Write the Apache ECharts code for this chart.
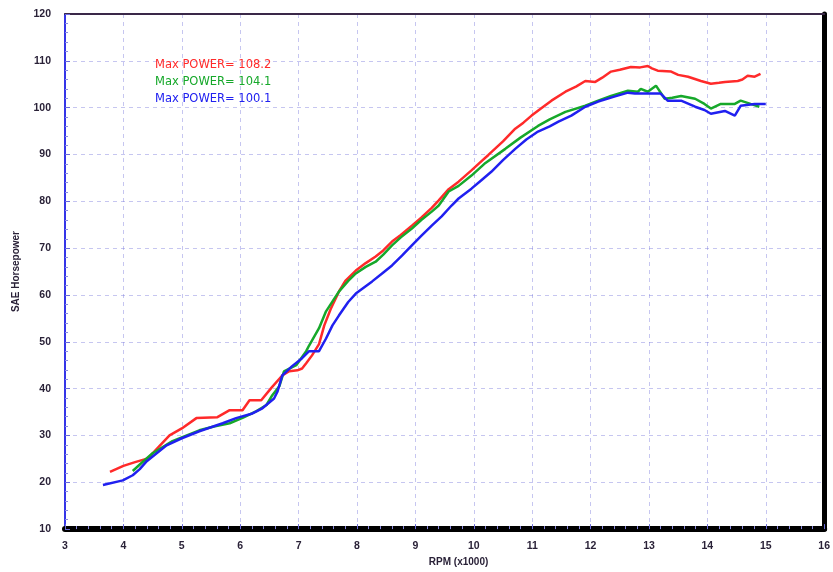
<!DOCTYPE html>
<html>
<head>
<meta charset="utf-8">
<script src="https://cdn.jsdelivr.net/npm/echarts@6/dist/echarts.min.js"></script>
<style>
  html, body { margin: 0; padding: 0; background: #fff; }
  #chart { width: 833px; height: 572px; }
</style>
</head>
<body>
<div id="chart"></div>
<script>
// Dyno runs, RPM in thousands vs SAE horsepower
const seriesNames = ['Max POWER= 108.2', 'Max POWER= 104.1', 'Max POWER= 100.1'];
const seriesColors = ['#ff2a2a', '#16a82a', '#2020f0'];

const redRpm = [3.77, 4.0, 4.2, 4.42, 4.6, 4.79, 5.0, 5.25, 5.61, 5.82, 6.04, 6.16, 6.36, 6.53, 6.72, 6.84, 6.98, 7.06, 7.13, 7.23, 7.35, 7.44, 7.55, 7.69, 7.8, 7.98, 8.15, 8.32, 8.45, 8.6, 8.75, 8.94, 9.1, 9.28, 9.4, 9.57, 9.74, 9.96, 10.1, 10.25, 10.5, 10.71, 10.85, 10.99, 11.15, 11.33, 11.57, 11.75, 11.91, 12.08, 12.2, 12.35, 12.5, 12.69, 12.85, 12.98, 13.05, 13.15, 13.38, 13.5, 13.67, 13.89, 14.06, 14.2, 14.3, 14.52, 14.6, 14.69, 14.81, 14.91];
const redHp = [22.2, 23.5, 24.3, 25.1, 27.5, 30.0, 31.5, 33.7, 33.9, 35.4, 35.4, 37.5, 37.5, 40.1, 42.8, 43.7, 43.9, 44.3, 45.4, 47.1, 49.5, 53.5, 57.0, 60.7, 63.0, 65.2, 66.8, 68.2, 69.5, 71.4, 72.8, 74.8, 76.5, 78.6, 80.2, 82.6, 84.2, 86.6, 88.2, 89.9, 92.8, 95.5, 96.8, 98.3, 99.8, 101.5, 103.4, 104.5, 105.7, 105.5, 106.4, 107.7, 108.1, 108.7, 108.6, 108.9, 108.4, 107.9, 107.7, 107.0, 106.6, 105.7, 105.1, 105.3, 105.5, 105.7, 106.0, 106.8, 106.6, 107.2];

const greenRpm = [4.16, 4.3, 4.5, 4.84, 5.0, 5.3, 5.55, 5.82, 6.05, 6.28, 6.45, 6.55, 6.67, 6.75, 6.96, 7.13, 7.18, 7.35, 7.47, 7.69, 7.85, 7.98, 8.15, 8.32, 8.45, 8.6, 8.75, 8.94, 9.1, 9.28, 9.4, 9.57, 9.74, 9.96, 10.2, 10.54, 10.8, 11.1, 11.3, 11.57, 11.91, 12.13, 12.35, 12.64, 12.81, 12.86, 12.98, 13.12, 13.27, 13.4, 13.55, 13.79, 13.95, 14.06, 14.23, 14.47, 14.57, 14.74, 14.89];
const greenHp = [22.4, 24.0, 26.2, 28.8, 29.6, 31.1, 31.9, 32.6, 33.8, 35.2, 36.5, 38.6, 40.5, 43.7, 45.0, 48.0, 49.2, 52.9, 56.5, 60.7, 63.0, 64.6, 66.0, 67.1, 68.6, 70.6, 72.3, 74.2, 76.0, 77.8, 79.1, 82.1, 83.3, 85.5, 88.2, 91.2, 93.6, 96.1, 97.5, 99.1, 100.4, 101.5, 102.5, 103.6, 103.4, 104.0, 103.4, 104.7, 101.9, 102.1, 102.5, 101.9, 100.8, 99.8, 100.8, 100.8, 101.5, 100.8, 100.2];

const blueRpm = [3.65, 3.99, 4.16, 4.28, 4.4, 4.74, 5.0, 5.3, 5.7, 5.93, 6.21, 6.38, 6.58, 6.64, 6.72, 6.89, 7.06, 7.18, 7.35, 7.47, 7.58, 7.69, 7.85, 7.98, 8.26, 8.43, 8.6, 8.77, 8.94, 9.1, 9.28, 9.45, 9.62, 9.74, 9.96, 10.13, 10.3, 10.5, 10.71, 10.9, 11.1, 11.3, 11.45, 11.67, 11.91, 12.13, 12.42, 12.64, 12.76, 12.98, 13.2, 13.32, 13.55, 13.79, 13.95, 14.06, 14.3, 14.47, 14.57, 14.81, 15.0];
const blueHp = [19.4, 20.4, 21.5, 22.8, 24.5, 27.9, 29.4, 30.9, 32.6, 33.7, 34.7, 35.8, 37.9, 39.4, 42.8, 44.8, 46.5, 48.0, 48.0, 50.7, 53.5, 55.6, 58.5, 60.3, 62.9, 64.6, 66.3, 68.4, 70.6, 72.6, 74.8, 76.8, 79.1, 80.6, 82.7, 84.5, 86.3, 88.8, 91.2, 93.2, 94.9, 96.0, 97.0, 98.3, 100.2, 101.3, 102.4, 103.2, 103.0, 103.0, 103.0, 101.5, 101.5, 100.2, 99.5, 98.7, 99.3, 98.3, 100.4, 100.8, 100.8];

const rpmRuns = [redRpm, greenRpm, blueRpm];
const hpRuns = [redHp, greenHp, blueHp];

const chart = echarts.init(document.getElementById('chart'));

const labelFont = { color: '#2a2238', fontSize: 10.5, fontWeight: 'bold', fontFamily: 'Liberation Sans' };
const gridLine = { show: true, lineStyle: { color: 'rgba(120,120,220,0.42)', type: [4, 4], width: 1 } };

chart.setOption({
  animation: false,
  backgroundColor: '#fff',
  grid: { left: 65, right: 6, top: 14, bottom: 41 },
  legend: {
    orient: 'vertical',
    left: 145,
    top: 54,
    itemWidth: 0,
    itemHeight: 0,
    itemGap: 5,
    selectedMode: false,
    textStyle: { fontSize: 11.5, fontFamily: 'DejaVu Sans' },
    data: seriesNames.map((n, i) => ({ name: n, icon: 'none', textStyle: { color: seriesColors[i] } }))
  },
  xAxis: [{
    type: 'value', min: 3, max: 16, interval: 1,
    name: 'RPM (x1000)', nameLocation: 'middle', nameGap: 27,
    nameTextStyle: { color: '#2a2238', fontSize: 10, fontWeight: 'bold', fontFamily: 'Liberation Sans', padding: [0, 0, 0, 28] },
    axisLine: { show: true, lineStyle: { color: '#000', width: 6 } },
    axisTick: { show: true, inside: true, length: 5, lineStyle: { color: '#6a6ad8' } },
    minorTick: { show: true, splitNumber: 5, length: 3, lineStyle: { color: '#8a8ae0' } },
    axisLabel: Object.assign({ margin: 12 }, labelFont),
    splitLine: gridLine
  }, {
    type: 'value', min: 3, max: 16, position: 'top',
    axisLine: { show: true, lineStyle: { color: '#3a2848', width: 2 } },
    axisTick: { show: false }, axisLabel: { show: false }, splitLine: { show: false }
  }],
  yAxis: [{
    type: 'value', min: 10, max: 120, interval: 10,
    name: 'SAE Horsepower', nameLocation: 'middle', nameGap: 44,
    nameTextStyle: { color: '#2a2238', fontSize: 10, fontWeight: 'bold', fontFamily: 'Liberation Sans' },
    axisLine: { show: true, lineStyle: { color: '#3535e8', width: 2 } },
    axisTick: { show: true, inside: true, length: 5, lineStyle: { color: '#6a6ad8' } },
    minorTick: { show: true, splitNumber: 5, length: 3, lineStyle: { color: '#8a8ae0' } },
    axisLabel: Object.assign({ margin: 14 }, labelFont),
    splitLine: gridLine
  }, {
    type: 'value', min: 10, max: 120, position: 'right',
    axisLine: { show: true, lineStyle: { color: '#000', width: 5 } },
    axisTick: { show: false }, axisLabel: { show: false }, splitLine: { show: false }
  }],
  series: seriesNames.map((name, i) => ({
    name: name,
    type: 'line',
    showSymbol: false,
    color: seriesColors[i],
    lineStyle: { width: 2.5, color: seriesColors[i] },
    data: rpmRuns[i].map((r, k) => [r, hpRuns[i][k]])
  }))
});

window.addEventListener('resize', () => chart.resize());
</script>
</body>
</html>
